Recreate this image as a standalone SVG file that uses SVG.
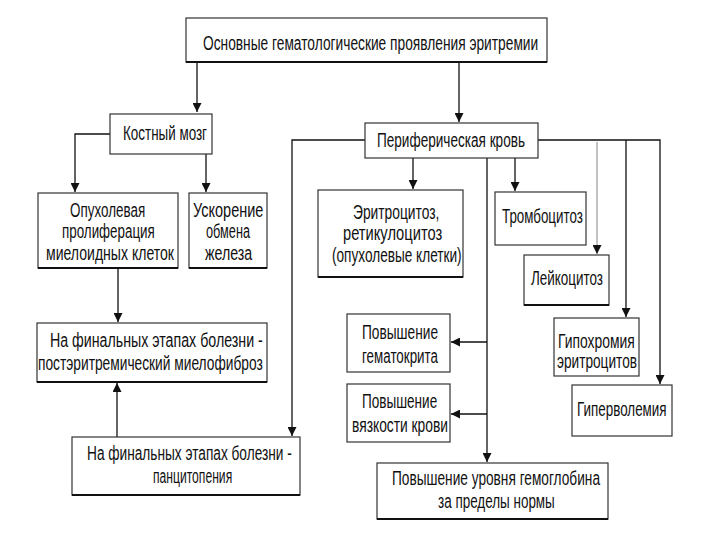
<svg xmlns="http://www.w3.org/2000/svg" width="720" height="540" viewBox="0 0 720 540">
<style>
.b{fill:#fff;stroke:#333;stroke-width:1.2}
.s{stroke:#111;stroke-width:2}
.t{font-family:"Liberation Sans","Arial",sans-serif;font-size:20px;fill:#111}
.c{fill:none;stroke:#111;stroke-width:1.3}
.g{fill:none;stroke:#999;stroke-width:1.2}
</style>
<defs>
<marker id="a" viewBox="0 0 10 10" refX="10" refY="5" markerWidth="9" markerHeight="9" markerUnits="userSpaceOnUse" orient="auto">
<path d="M0,0 L10,5 L0,10 z" fill="#111"/>
</marker>
</defs>
<rect width="720" height="540" fill="#fff"/>
<g id="connectors">
<path class="c" d="M197,62 V112" marker-end="url(#a)"/>
<path class="c" d="M459,62 V122" marker-end="url(#a)"/>
<path class="c" d="M110,134 H75 V192" marker-end="url(#a)"/>
<path class="c" d="M206,154 V192" marker-end="url(#a)"/>
<path class="c" d="M118,268 V322" marker-end="url(#a)"/>
<path class="c" d="M117,437 V383" marker-end="url(#a)"/>
<path class="c" d="M365,140 H292 V436" marker-end="url(#a)"/>
<path class="c" d="M413,158 V189" marker-end="url(#a)"/>
<path class="c" d="M515,158 V191" marker-end="url(#a)"/>
<path class="c" d="M487,158 V462" marker-end="url(#a)"/>
<path class="c" d="M487,342 H451" marker-end="url(#a)"/>
<path class="c" d="M487,414 H451" marker-end="url(#a)"/>
<path class="c" d="M538,140 H660 V384" marker-end="url(#a)"/>
<path class="c" d="M626,140 V317" marker-end="url(#a)"/>
<path class="g" d="M597,142 V254" marker-end="url(#a)"/>
</g>
<g id="n-top">
<rect class="b" x="186" y="18" width="361" height="44"/>
<line class="s" x1="186" y1="62" x2="547" y2="62"/>
<text class="t" transform="translate(203,50) scale(0.8,1)" textLength="419" lengthAdjust="spacingAndGlyphs">Основные гематологические проявления эритремии</text>
</g>
<g id="n-kostny">
<rect class="b" x="110" y="114" width="102" height="40"/>
<text class="t" transform="translate(123,140) scale(0.8,1)" textLength="105" lengthAdjust="spacingAndGlyphs">Костный мозг</text>
</g>
<g id="n-opuhol">
<rect class="b" x="38" y="193" width="140" height="75"/>
<line class="s" x1="38" y1="268" x2="178" y2="268"/>
<text class="t" transform="translate(70,217) scale(0.8,1)" textLength="94" lengthAdjust="spacingAndGlyphs">Опухолевая</text>
<text class="t" transform="translate(62,238) scale(0.8,1)" textLength="116" lengthAdjust="spacingAndGlyphs">пролиферация</text>
<text class="t" transform="translate(46,260) scale(0.8,1)" textLength="160" lengthAdjust="spacingAndGlyphs">миелоидных клеток</text>
</g>
<g id="n-uskor">
<rect class="b" x="189" y="193" width="78" height="75"/>
<line class="s" x1="189" y1="268" x2="267" y2="268"/>
<text class="t" transform="translate(193,217) scale(0.8,1)" textLength="88" lengthAdjust="spacingAndGlyphs">Ускорение</text>
<text class="t" transform="translate(206,238) scale(0.8,1)" textLength="55" lengthAdjust="spacingAndGlyphs">обмена</text>
<text class="t" transform="translate(205,260) scale(0.8,1)" textLength="59" lengthAdjust="spacingAndGlyphs">железа</text>
</g>
<g id="n-mielofibroz">
<rect class="b" x="37" y="323" width="230" height="59"/>
<line class="s" x1="37" y1="382" x2="267" y2="382"/>
<text class="t" transform="translate(50,347) scale(0.8,1)" textLength="266" lengthAdjust="spacingAndGlyphs">На финальных этапах болезни -</text>
<text class="t" transform="translate(38,370) scale(0.8,1)" textLength="281" lengthAdjust="spacingAndGlyphs">постэритремический миелофиброз</text>
</g>
<g id="n-pancit">
<rect class="b" x="72" y="437" width="228" height="58"/>
<line class="s" x1="72" y1="495" x2="300" y2="495"/>
<text class="t" transform="translate(87,460) scale(0.8,1)" textLength="256" lengthAdjust="spacingAndGlyphs">На финальных этапах болезни -</text>
<text class="t" transform="translate(153,483) scale(0.8,1)" textLength="99" lengthAdjust="spacingAndGlyphs">панцитопения</text>
</g>
<g id="n-perif">
<rect class="b" x="365" y="123" width="173" height="35"/>
<text class="t" transform="translate(377,147) scale(0.8,1)" textLength="185" lengthAdjust="spacingAndGlyphs">Периферическая кровь</text>
</g>
<g id="n-eritro">
<rect class="b" x="318" y="190" width="145" height="87"/>
<line class="s" x1="318" y1="277" x2="463" y2="277"/>
<text class="t" transform="translate(353,219) scale(0.8,1)" textLength="108" lengthAdjust="spacingAndGlyphs">Эритроцитоз,</text>
<text class="t" transform="translate(343,240) scale(0.8,1)" textLength="124" lengthAdjust="spacingAndGlyphs">ретикулоцитоз</text>
<text class="t" transform="translate(332,262) scale(0.8,1)" textLength="162" lengthAdjust="spacingAndGlyphs">(опухолевые клетки)</text>
</g>
<g id="n-trombo">
<rect class="b" x="495" y="192" width="91" height="53"/>
<text class="t" transform="translate(502,223) scale(0.8,1)" textLength="101" lengthAdjust="spacingAndGlyphs">Тромбоцитоз</text>
</g>
<g id="n-leiko">
<rect class="b" x="524" y="255" width="85" height="50"/>
<line class="s" x1="524" y1="305" x2="609" y2="305"/>
<text class="t" transform="translate(531,285) scale(0.8,1)" textLength="90" lengthAdjust="spacingAndGlyphs">Лейкоцитоз</text>
</g>
<g id="n-gipohrom">
<rect class="b" x="554" y="318" width="85" height="58"/>
<text class="t" transform="translate(558,348) scale(0.8,1)" textLength="96" lengthAdjust="spacingAndGlyphs">Гипохромия</text>
<text class="t" transform="translate(557,368) scale(0.8,1)" textLength="100" lengthAdjust="spacingAndGlyphs">эритроцитов</text>
</g>
<g id="n-gipervol">
<rect class="b" x="572" y="385" width="100" height="51"/>
<text class="t" transform="translate(577,416) scale(0.8,1)" textLength="112" lengthAdjust="spacingAndGlyphs">Гиперволемия</text>
</g>
<g id="n-gematokrit">
<rect class="b" x="347" y="314" width="103" height="58"/>
<text class="t" transform="translate(362,339) scale(0.8,1)" textLength="95" lengthAdjust="spacingAndGlyphs">Повышение</text>
<text class="t" transform="translate(362,363) scale(0.8,1)" textLength="95" lengthAdjust="spacingAndGlyphs">гематокрита</text>
</g>
<g id="n-vyazkost">
<rect class="b" x="347" y="384" width="103" height="58"/>
<text class="t" transform="translate(362,408) scale(0.8,1)" textLength="94" lengthAdjust="spacingAndGlyphs">Повышение</text>
<text class="t" transform="translate(352,432) scale(0.8,1)" textLength="120" lengthAdjust="spacingAndGlyphs">вязкости крови</text>
</g>
<g id="n-gemoglobin">
<rect class="b" x="377" y="463" width="231" height="56"/>
<line class="s" x1="377" y1="519" x2="608" y2="519"/>
<text class="t" transform="translate(392,485) scale(0.8,1)" textLength="260" lengthAdjust="spacingAndGlyphs">Повышение уровня гемоглобина</text>
<text class="t" transform="translate(438,508) scale(0.8,1)" textLength="146" lengthAdjust="spacingAndGlyphs">за пределы нормы</text>
</g>
</svg>
